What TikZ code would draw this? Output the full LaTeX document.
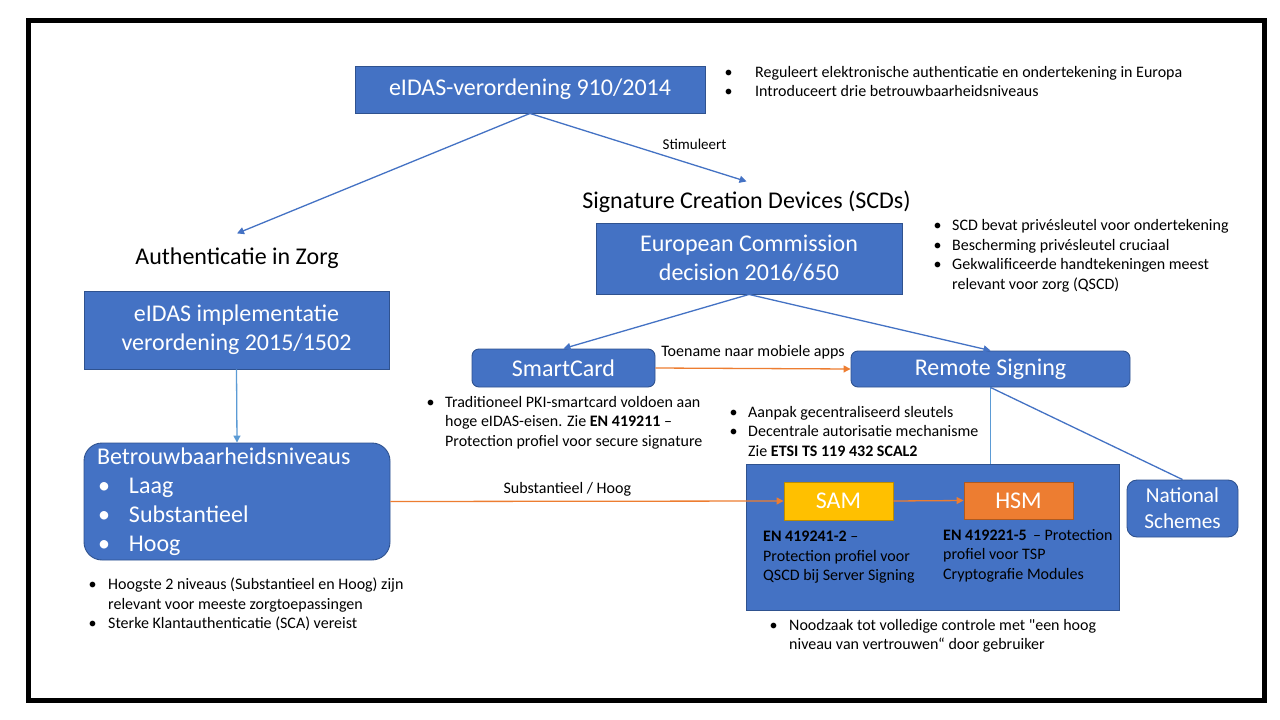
\documentclass[tikz,border=0pt]{standalone}
\usepackage{fontspec}
\setmainfont{Carlito}
\usetikzlibrary{arrows.meta}
\definecolor{vlakblauw}{HTML}{4472C4}
\definecolor{randblauw}{HTML}{2F528F}
\definecolor{lijnblauw}{HTML}{4472C4}
\definecolor{lichtblauw}{HTML}{5B9BD5}
\definecolor{pijloranje}{HTML}{ED7D31}
\definecolor{samgeel}{HTML}{FFC000}
\definecolor{samrand}{HTML}{BC8C00}
\definecolor{hsmoranje}{HTML}{ED7D31}
\definecolor{hsmrand}{HTML}{AE5A21}

\begin{document}
\begin{tikzpicture}[x=1pt,y=-1pt,
    blok/.style={draw=randblauw,fill=vlakblauw,line width=0.9pt,text=white,
      font=\fontsize{24}{29}\selectfont,align=center,inner sep=0pt},
    rondblok/.style={blok,rounded corners=7pt},
    kop/.style={font=\fontsize{24}{29}\selectfont,inner xsep=0pt},
    lijst/.style={font=\fontsize{16}{19.5}\selectfont,align=left,inner sep=0pt,anchor=west},
    bijschrift/.style={font=\fontsize{16}{19}\selectfont},
    pijl/.style={draw=lijnblauw,line width=1.3pt,-{Triangle[length=7pt,width=7pt]}},
    oranjepijl/.style={pijl,draw=pijloranje}
  ]%
  \fill[white] (0,0) rectangle (1280,720);
  \draw[line width=5pt] (28.5,20.5) rectangle (1264.5,700.5);

  \node[blok,minimum width=350pt,minimum height=47pt] (eidas) at (530,89.5) {eIDAS-verordening 910/2014};
  \node[lijst] (eidasinfo) at (724.5,81.5) {\makebox[30.5pt][l]{•}Reguleert elektronische authenticatie en ondertekening  in Europa\\
    \makebox[30.5pt][l]{•}Introduceert  drie betrouwbaarheidsniveaus};

  \node[kop,inner ysep=9.5pt] (scd) at (746.5,202) {Signature Creation Devices (SCDs)};
  \node[kop,inner ysep=14pt] (auth) at (237,258) {Authenticatie in Zorg};

  \node[blok,minimum width=306pt,minimum height=71pt] (ec) at (749,258.5) {European Commission\\decision 2016/650};
  \node[lijst] (scdinfo) at (933.5,256) {\makebox[18.5pt][l]{•}SCD bevat privésleutel voor  ondertekening\\
    \makebox[18.5pt][l]{•}Bescherming privésleutel cruciaal\\
    \makebox[18.5pt][l]{•}Gekwalificeerde handtekeningen  meest\\
    \hspace*{18.5pt}relevant voor zorg (QSCD)};

  \node[blok,minimum width=305pt,minimum height=78pt] (impl) at (236.5,330) {eIDAS implementatie\\verordening 2015/1502};
  \node[rondblok,rounded corners=18pt,minimum width=306pt,minimum height=117pt,text width=280pt,inner xsep=13pt,align=left] (betr) at (237,501.5) {Betrouwbaarheidsniveaus\\
    \makebox[32pt][l]{\hspace{1pt}•}Laag\\
    \makebox[32pt][l]{\hspace{1pt}•}Substantieel\\
    \makebox[32pt][l]{\hspace{1pt}•}Hoog};
  \node[lijst] (betrinfo) at (88.5,604.5) {\makebox[19.5pt][l]{•}Hoogste 2 niveaus (Substantieel en Hoog) zijn\\
    \hspace*{19.5pt}relevant voor meeste zorgtoepassingen\\
    \makebox[19.5pt][l]{•}Sterke Klantauthenticatie (SCA) vereist};

  \node[rondblok,minimum width=183pt,minimum height=38pt] (smart) at (563.5,368) {SmartCard};
  \node[rondblok,minimum width=279pt,minimum height=36pt] (remote) at (990.5,369) {Remote Signing};
  \node[lijst] (smartinfo) at (426.5,422.5) {\makebox[18.5pt][l]{•}Traditioneel PKI-smartcard voldoen aan\\
    \hspace*{18.5pt}hoge eIDAS-eisen. Zie \textbf{EN 419211} –\\
    \hspace*{18.5pt}Protection  profiel voor  secure signature};
  \node[lijst] (remoteinfo) at (729.5,431) {\makebox[18.5pt][l]{•}Aanpak gecentraliseerd sleutels\\
    \makebox[18.5pt][l]{•}Decentrale autorisatie mechanisme\\
    \hspace*{18.5pt}Zie \textbf{ETSI TS 119 432  SCAL2}};

  \node[blok,minimum width=373pt,minimum height=146pt] (server) at (932.5,537) {};
  \node[blok,fill=samgeel,draw=samrand,minimum width=109pt,minimum height=38pt] (sam) at (838.5,501) {SAM};
  \node[blok,fill=hsmoranje,draw=hsmrand,minimum width=109pt,minimum height=37pt] (hsm) at (1018.5,500.5) {HSM};
  \node[lijst] (samtxt) at (763,557.5) {\textbf{EN 419241-2} –\\Protection  profiel voor\\QSCD bij Server  Signing};
  \node[lijst] (hsmtxt) at (943,555.5) {\textbf{EN 419221-5} \,– Protection\\profiel voor TSP\\Cryptografie Modules};
  \node[rondblok,rounded corners=10pt,minimum width=111pt,minimum height=57pt,font=\fontsize{21.3}{26}\selectfont] (natl) at (1182.5,508.5) {National\\Schemes};
  \node[lijst] (servinfo) at (769.5,636) {\makebox[19.5pt][l]{•}Noodzaak tot volledige controle met {\addfontfeatures{Ligatures=TeXOff}"}een hoog\\
    \hspace*{19.5pt}niveau van vertrouwen“ door gebruiker};

  \draw[pijl] (eidas.south) -- (auth.north);
  \draw[pijl] (eidas.south) -- node[bijschrift,pos=0.76,above=12pt,font=\fontsize{15}{18}\selectfont] {Stimuleert} (scd.north);
  \draw[pijl,draw=lichtblauw] (impl.south) -- (betr.north);
  \draw[pijl] (ec.south) -- (smart.north);
  \draw[pijl] (ec.south) -- (remote.north);
  \draw[oranjepijl] (smart.east) -- node[bijschrift,above=5.5pt] {Toename naar mobiele apps} (remote.west);
  \draw[oranjepijl] (betr.east) -- node[bijschrift,pos=0.45,above=1.5pt] {Substantieel / Hoog} (sam.west);
  \draw[oranjepijl] (sam.east) -- (hsm.west);
  \draw[lichtblauw,line width=1.3pt] (remote.south) -- (remote.south |- server.north);
  \draw[lijnblauw,line width=1.3pt] (remote.south) -- (natl.north);
\end{tikzpicture}
\end{document}
